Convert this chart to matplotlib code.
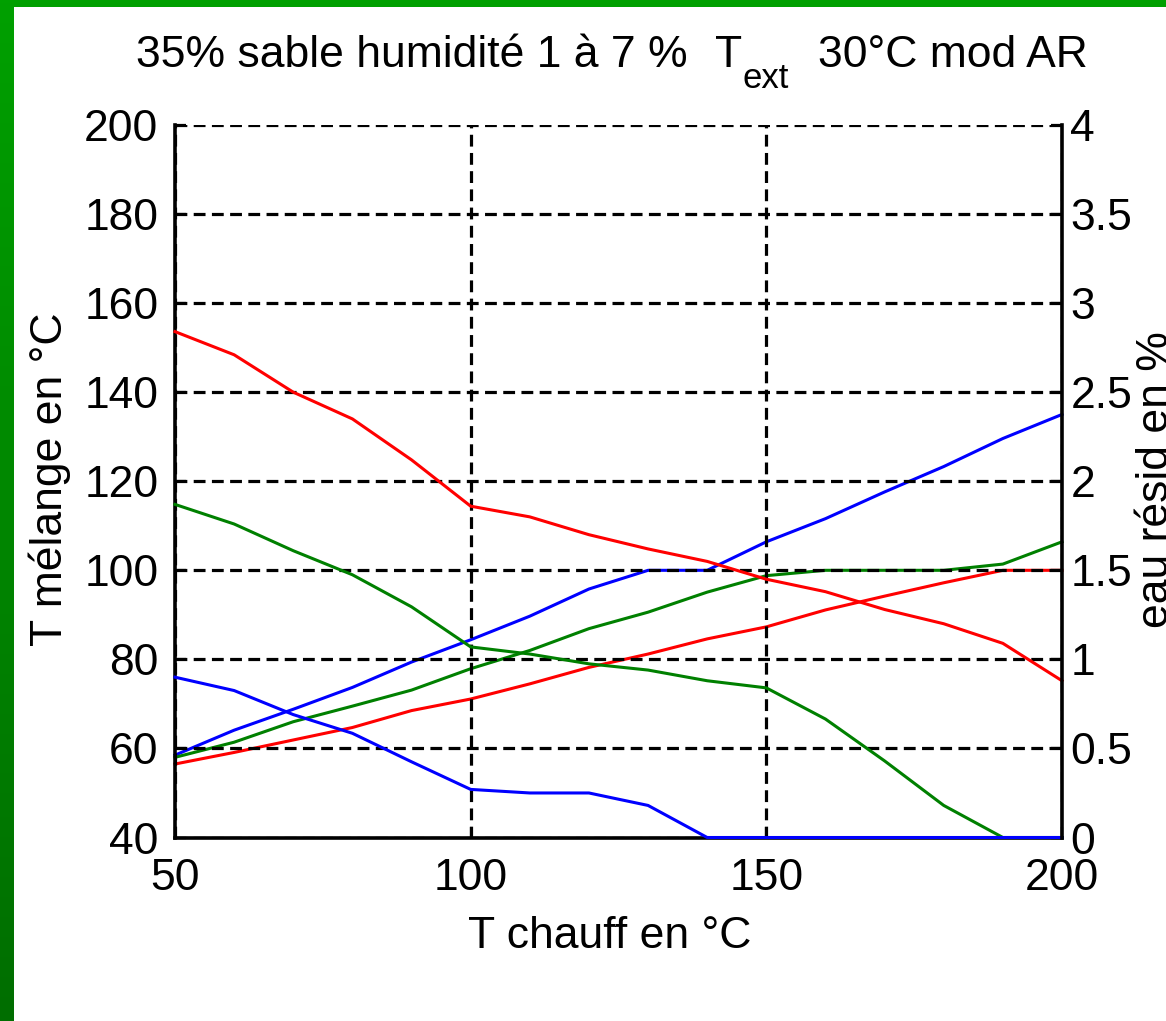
import numpy as np
import matplotlib
matplotlib.use('Agg')
from matplotlib import pyplot as plt
from matplotlib.patches import Rectangle

plt.rcParams['font.family'] = ['Liberation Sans', 'DejaVu Sans']
plt.rcParams['font.size'] = 32

# température de chauffe (°C)
t_chauff = [50, 60, 70, 80, 90, 100, 110, 120, 130, 140, 150, 160, 170, 180, 190, 200]

# température du mélange (°C), axe gauche
t_mel_bleu = [58.5, 64.1, 68.8, 73.7, 79.4, 84.4, 89.7, 95.8, 100, 100, 106.4, 111.6, 117.6, 123.3, 129.6, 135.0]
t_mel_vert = [58.0, 61.4, 66.0, 69.5, 73.1, 77.9, 82.0, 86.9, 90.6, 95.1, 98.8, 100, 100, 100, 101.4, 106.4]
t_mel_rouge = [56.5, 59.1, 61.9, 64.7, 68.5, 71.1, 74.5, 78.2, 81.2, 84.6, 87.3, 91.1, 94.2, 97.2, 100, 100]

# eau résiduelle (%), axe droit
eau_rouge = [2.84, 2.71, 2.50, 2.35, 2.12, 1.86, 1.80, 1.70, 1.62, 1.55, 1.45, 1.38, 1.28, 1.20, 1.09, 0.88]
eau_vert = [1.87, 1.76, 1.61, 1.475, 1.295, 1.07, 1.03, 0.975, 0.94, 0.88, 0.84, 0.665, 0.43, 0.18, 0, 0]
eau_bleu = [0.90, 0.825, 0.69, 0.585, 0.425, 0.27, 0.25, 0.25, 0.18, 0, 0, 0, 0, 0, 0, 0]

W, H = 1166, 1021
fig = plt.figure(figsize=(W / 100, H / 100), dpi=100)

# cadre vert dégradé + fond blanc
bg = fig.add_axes([0, 0, 1, 1], zorder=-10)
grad = np.linspace(0, 1, 256).reshape(-1, 1)
bg.imshow(grad, aspect='auto', cmap=matplotlib.colors.LinearSegmentedColormap.from_list(
    'g', ['#00a000', '#006e00']), extent=[0, 1, 0, 1])
bg.axis('off')
fig.patches.append(Rectangle((14 / W, 0), 1, 1 - 7 / H, transform=fig.transFigure,
                             facecolor='white', edgecolor='none', zorder=-5))

ax = fig.add_axes([175 / W, 1 - 837.5 / H, (1062 - 175) / W, (837.5 - 125) / H])
ax.patch.set_alpha(0)
ax.plot(t_chauff, t_mel_bleu, color='#0000ff', lw=2.2, clip_on=False)
ax.plot(t_chauff, t_mel_vert, color='#008000', lw=2.2, clip_on=False)
ax.plot(t_chauff, t_mel_rouge, color='#ff0000', lw=2.2, clip_on=False)
ax.set_xlim(50, 200)
ax.set_ylim(40, 200)
ax.set_xticks([50, 100, 150, 200])
ax.set_yticks(range(40, 201, 20))
ax.set_axisbelow(False)
ax.grid(True, color='k', linestyle=(0, (3.7, 2.0)), linewidth=2.3)
ax.spines['top'].set_visible(False)
ax.spines['right'].set_visible(False)
for s in ['left', 'bottom']:
    ax.spines[s].set_linewidth(2.6)
ax.tick_params(direction='in', length=8, width=1.6, top=False, right=False)
ax.tick_params(axis='y', pad=12)
ax.tick_params(axis='x', pad=15)

ax2 = ax.twinx()
ax2.plot(t_chauff, eau_rouge, color='#ff0000', lw=2.2, clip_on=False)
ax2.plot(t_chauff, eau_vert, color='#008000', lw=2.2, clip_on=False)
ax2.plot(t_chauff, eau_bleu, color='#0000ff', lw=2.2, clip_on=False)
ax2.set_ylim(0, 4)
ax2.set_yticks(np.arange(0, 4.01, 0.5))
ax2.set_yticklabels(['0', '0.5', '1', '1.5', '2', '2.5', '3', '3.5', '4'])
for s in ['top', 'left', 'bottom']:
    ax2.spines[s].set_visible(False)
ax2.spines['right'].set_linewidth(2.6)
ax2.tick_params(direction='in', length=8, width=1.6, pad=6)

# titre en morceaux pour l'indice "ext"
base = 1 - 67 / H
fig.text(688 / W, base, '35% sable humidité 1 à 7 %', ha='right', va='baseline')
fig.text(715 / W, base, 'T', ha='left', va='baseline')
fig.text(742 / W, 1 - 88 / H, 'ext', ha='left', va='baseline', fontsize=25)
fig.text(818 / W, base, '30°C mod AR', ha='left', va='baseline')

fig.text(610 / W, 1 - 948 / H, 'T chauff en °C', ha='center', va='baseline')
fig.text(71 / W, 1 - 479 / H, 'T mélange en °C', rotation=90, ha='right', va='center')
fig.text(1136 / W, 1 - 480 / H, 'eau résid en %', rotation=90, ha='left', va='center')

plt.savefig('out.png', dpi=100)
plt.close()
